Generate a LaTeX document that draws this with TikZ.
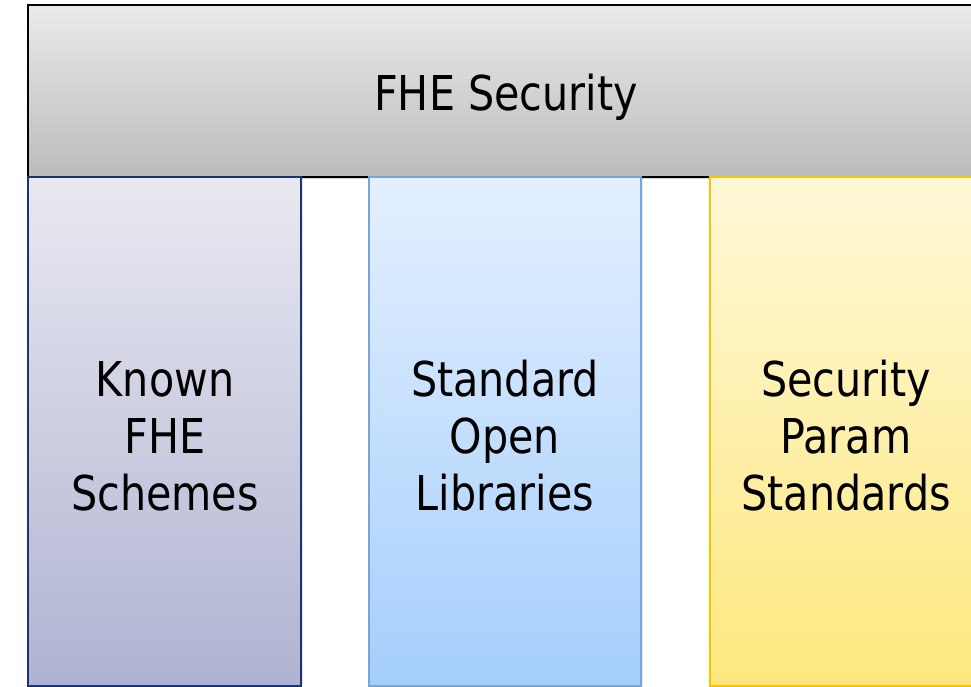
\documentclass[tikz,border=0pt]{standalone}
\usepackage{fontspec}
\setmainfont{DejaVu Sans}[FakeStretch=0.86]
\usetikzlibrary{shadows}
\definecolor{greyTop}{HTML}{EBEBEB}
\definecolor{greyBot}{HTML}{BBBBBB}
\definecolor{navyTop}{HTML}{E9E9F1}
\definecolor{navyBot}{HTML}{AFB3D1}
\definecolor{navyLine}{HTML}{1C3473}
\definecolor{blueTop}{HTML}{E4F0FF}
\definecolor{blueBot}{HTML}{A5CEFC}
\definecolor{blueLine}{HTML}{79A5D6}
\definecolor{goldTop}{HTML}{FFF8D8}
\definecolor{goldBot}{HTML}{FDE87E}
\definecolor{goldLine}{HTML}{F6C500}
\tikzset{
  label text/.style={font=\fontsize{48}{57}\selectfont, text=black, align=center},
  band/.style={draw=black, line width=2pt, top color=greyTop, bottom color=greyBot,
    drop shadow={shadow xshift=1pt, shadow yshift=-2pt, opacity=0.35}},
  pillar/.style={line width=1.6pt,
    drop shadow={shadow xshift=2pt, shadow yshift=0pt, opacity=0.2}},
}
\begin{document}
\begin{tikzpicture}[x=1pt, y=-1pt]
  \useasboundingbox (0,0) rectangle (971,686);
  \clip (0,0) rectangle (971,686);
  % top band
  \draw[band] (28,5) rectangle (985,177);
  \node[label text] (fhe) at (506,97) {FHE Security};
  % three pillars
  \draw[pillar, draw=navyLine, top color=navyTop, bottom color=navyBot] (28,177) rectangle (301,686);
  \draw[pillar, draw=blueLine, top color=blueTop, bottom color=blueBot] (369,177) rectangle (641,686);
  \draw[pillar, draw=goldLine, top color=goldTop, bottom color=goldBot] (710,177) rectangle (982,686);
  \node[label text] (known) at (165,436) {Known\\FHE\\Schemes};
  \node[label text] (libs) at (505,436) {Standard\\Open\\Libraries};
  \node[label text] (params) at (846,436) {Security\\Param\\Standards};
\end{tikzpicture}
\end{document}
